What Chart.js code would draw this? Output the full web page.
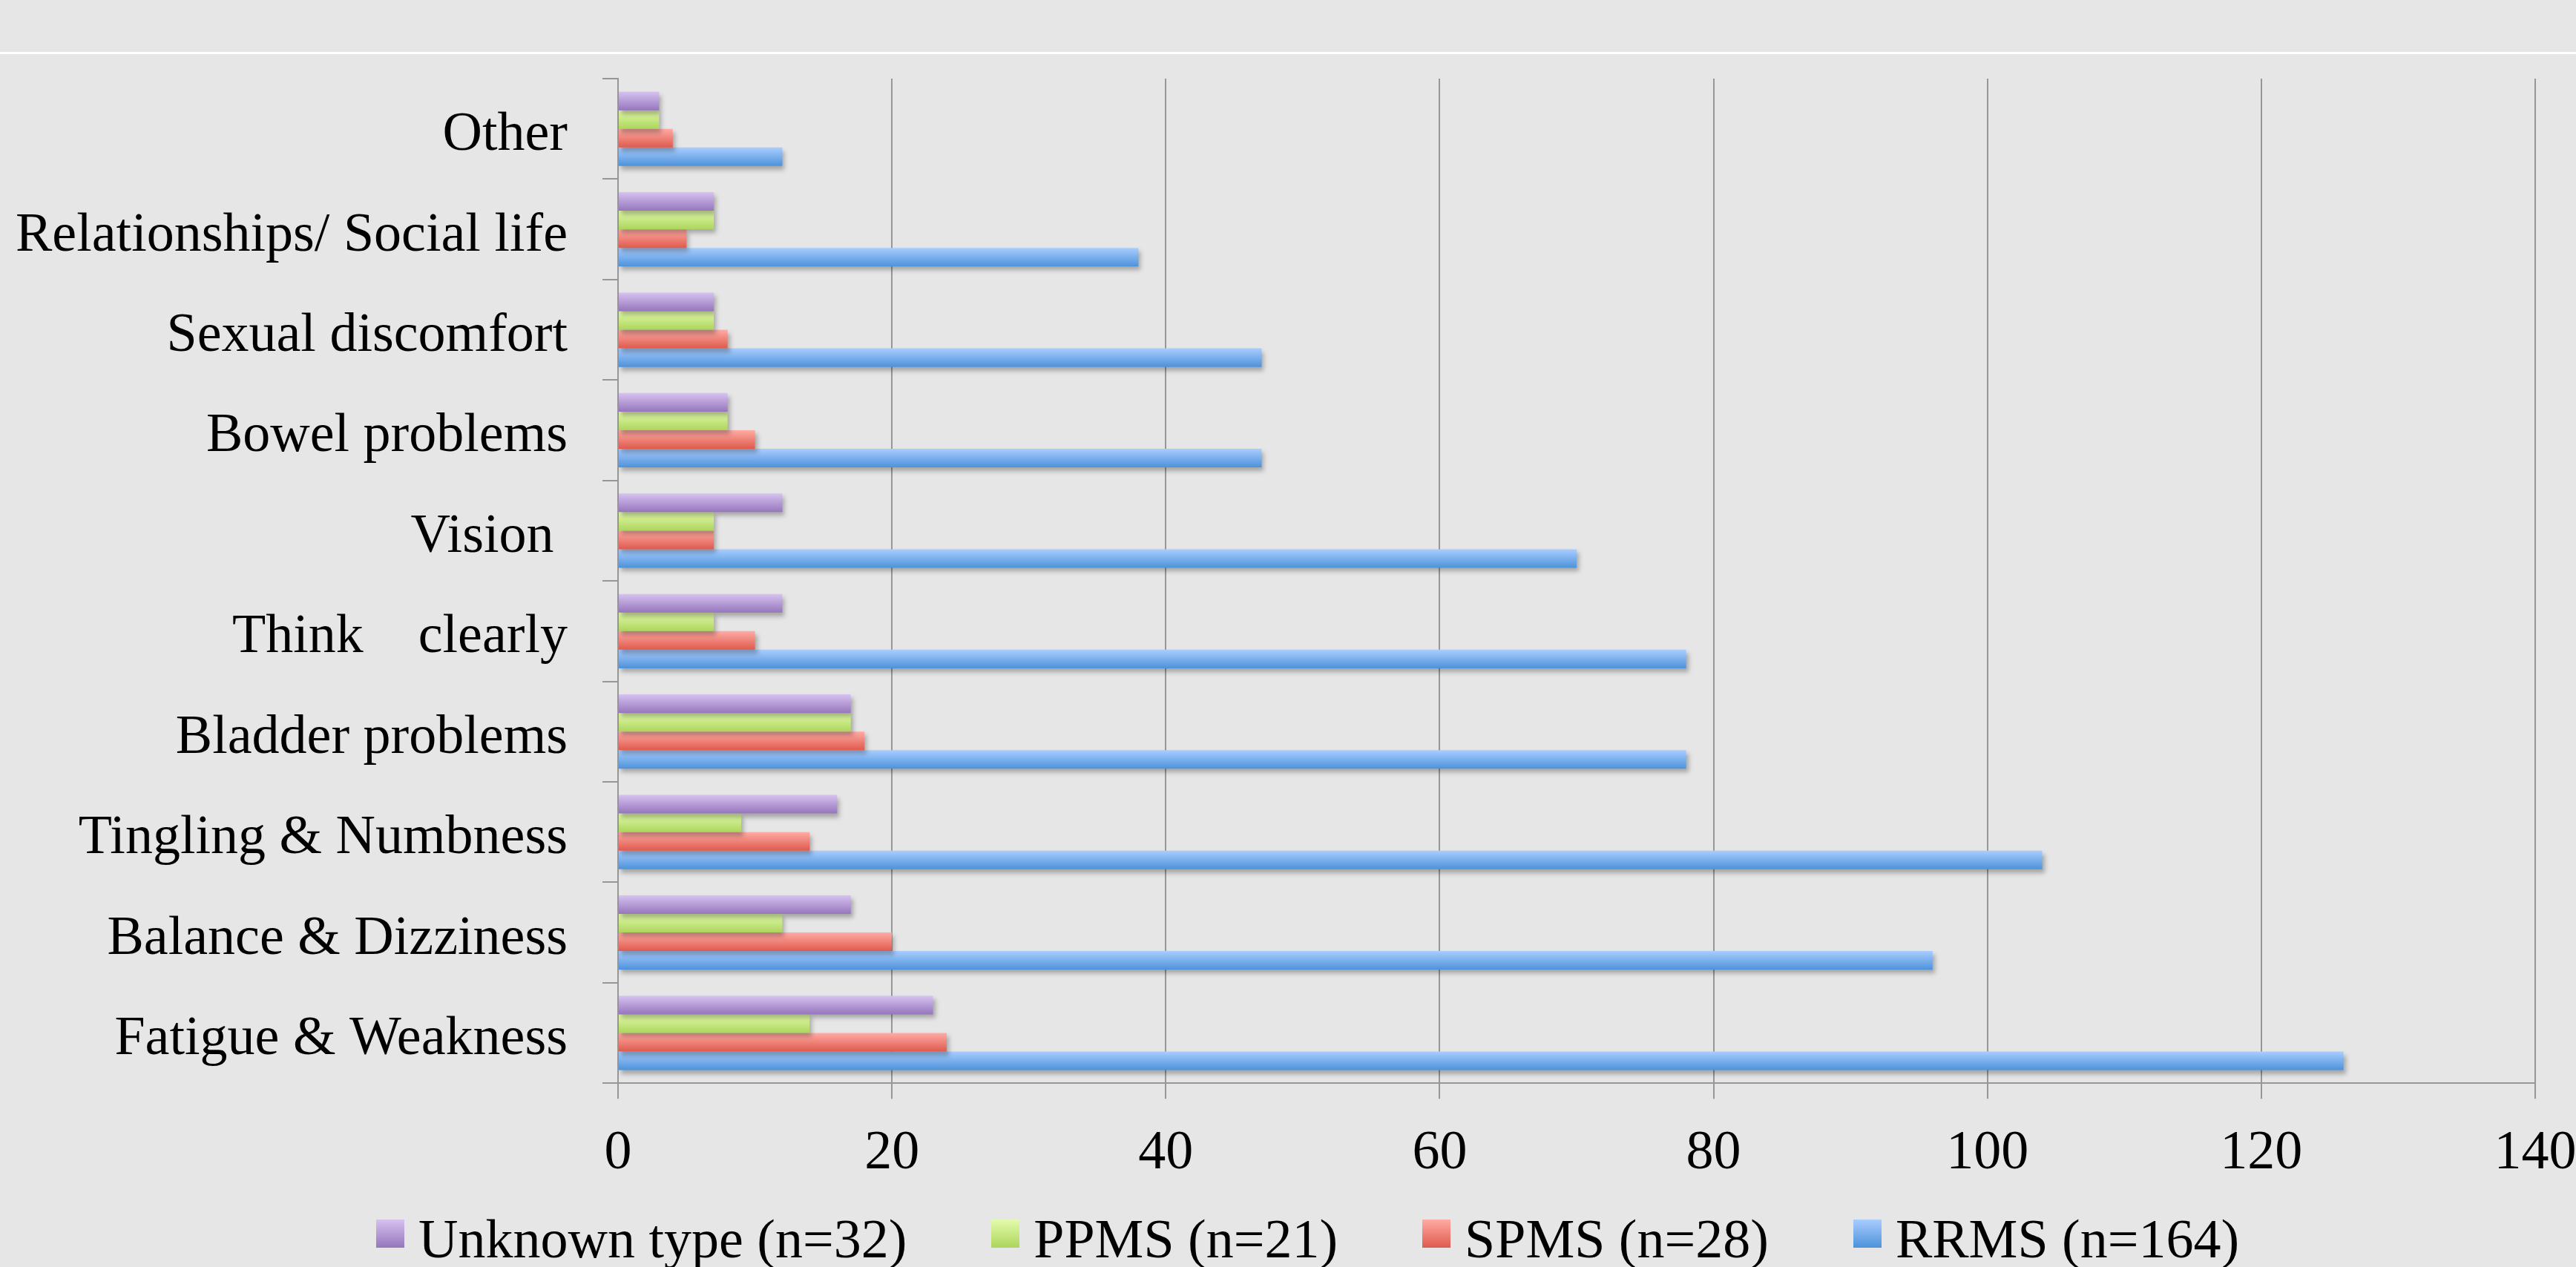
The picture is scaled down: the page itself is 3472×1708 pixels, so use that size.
<!DOCTYPE html>
<html>
<head>
<meta charset="utf-8">
<script src="https://cdn.jsdelivr.net/npm/chart.js@4/dist/chart.umd.min.js"></script>
<style>
  html, body { margin: 0; padding: 0; background: #e6e6e6; }
  #wrap { position: relative; width: 3472px; height: 1708px; overflow: hidden; }
  #rule { position: absolute; left: 0; top: 70px; width: 3472px; height: 3px; background: #ffffff; }
  #myChart { position: absolute; left: 0; top: 0; }
  #legend { position: absolute; left: 507px; top: 1626px; display: flex; align-items: flex-start;
            font: 74px 'Liberation Serif', 'Times New Roman', serif; line-height: 88px; color: #000; white-space: pre; }
  #legend .item { display: flex; align-items: flex-start; margin-right: 114px; }
  #legend .box { width: 38px; height: 38px; margin-top: 18px; margin-right: 19px; }
</style>
</head>
<body>
<div id="wrap">
  <canvas id="myChart" width="3472" height="1708"></canvas>
  <div id="rule"></div>
  <div id="legend"></div>
</div>
<script>
// categorias (de arriba hacia abajo)
const categories = ['Other', 'Relationships/ Social life', 'Sexual discomfort', 'Bowel problems', 'Vision ',
    'Think    clearly', 'Bladder problems', 'Tingling & Numbness', 'Balance & Dizziness', 'Fatigue & Weakness'];

const seriesNames = ['Unknown type (n=32)', 'PPMS (n=21)', 'SPMS (n=28)', 'RRMS (n=164)'];

const unknownType = [3, 7, 7, 8, 12, 12, 17, 16, 17, 23];
const ppms = [3, 7, 7, 8, 7, 7, 17, 9, 12, 14];
const spms = [4, 5, 8, 10, 7, 10, 18, 14, 20, 24];
const rrms = [12, 38, 47, 47, 70, 78, 78, 104, 96, 126];

const xTicks = [0, 20, 40, 60, 80, 100, 120, 140];

// colores: arriba / abajo del degradado
const seriesColors = [
    ['#d6c2f0', '#9676bc'],
    ['#e3fbab', '#acd55c'],
    ['#ffaba4', '#df5a4d'],
    ['#a9cdff', '#4d92da']
];

const gridGray = '#979797';

//degradado vertical en cada barra + sombra
const barLook = {
    id: 'barLook',
    beforeDatasetsDraw(chart) {
        const ctx = chart.ctx;
        chart.data.datasets.forEach((ds, i) => {
            const [top, bottom] = seriesColors[i];
            chart.getDatasetMeta(i).data.forEach(bar => {
                const g = ctx.createLinearGradient(0, bar.y - bar.height / 2, 0, bar.y + bar.height / 2);
                g.addColorStop(0, top);
                g.addColorStop(1, bottom);
                bar.options = Object.assign({}, bar.options, { backgroundColor: g });
            });
        });
        ctx.save();
        ctx.shadowColor = 'rgba(0,0,0,0.28)';
        ctx.shadowBlur = 6;
        ctx.shadowOffsetX = 3;
        ctx.shadowOffsetY = 5;
    },
    afterDatasetsDraw(chart) {
        chart.ctx.restore();
    }
};

Chart.defaults.font.family = "'Liberation Serif', 'Times New Roman', serif";
Chart.defaults.font.size = 74;
Chart.defaults.color = '#000';

const data = {
    labels: categories,
    datasets: [unknownType, ppms, spms, rrms].map((values, i) => ({
        label: seriesNames[i],
        data: values,
        backgroundColor: seriesColors[i][1],
        borderWidth: 0,
        categoryPercentage: 0.74,
        barPercentage: 1.0
    }))
};

const options = {
    indexAxis: 'y',
    responsive: false,
    animation: false,
    devicePixelRatio: 1,
    layout: { padding: { top: 106, left: 0, right: 0, bottom: 78 } },
    plugins: {
        legend: { display: false },
        tooltip: { enabled: false }
    },
    scales: {
        x: {
            min: 0,
            max: 140,
            afterBuildTicks: scale => { scale.ticks = xTicks.map(v => ({ value: v })); },
            afterFit: scale => { scale.paddingLeft = 0; scale.paddingRight = 55; },
            grid: { color: gridGray, lineWidth: 2, tickLength: 21, drawTicks: true },
            border: { color: gridGray, width: 2 },
            ticks: { padding: 30, maxRotation: 0 }
        },
        y: {
            afterFit: scale => { scale.width = 833; },
            grid: { color: gridGray, lineWidth: 2, tickLength: 21, drawOnChartArea: false, offset: true },
            border: { color: gridGray, width: 2 },
            ticks: { padding: 47, autoSkip: false, labelOffset: 9 }
        }
    }
};

const myChart = new Chart(document.getElementById('myChart').getContext('2d'), {
    type: 'bar',
    data,
    options,
    plugins: [barLook]
});

// leyenda en html
const legend = document.getElementById('legend');
myChart.data.datasets.forEach((ds, i) => {
    const item = document.createElement('div');
    item.className = 'item';
    const box = document.createElement('span');
    box.className = 'box';
    box.style.background = 'linear-gradient(' + seriesColors[i][0] + ', ' + seriesColors[i][1] + ')';
    const txt = document.createElement('span');
    txt.textContent = ds.label;
    item.appendChild(box);
    item.appendChild(txt);
    legend.appendChild(item);
});
</script>
</body>
</html>
